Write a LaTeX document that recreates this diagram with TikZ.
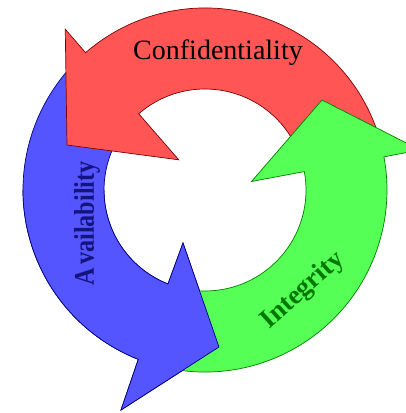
\documentclass[tikz,border=0pt]{standalone}
\usepackage{fontspec}
\setmainfont{Liberation Serif}
\definecolor{redfill}{RGB}{255,85,85}
\definecolor{redline}{RGB}{128,0,0}
\definecolor{bluefill}{RGB}{85,85,255}
\definecolor{blueline}{RGB}{0,0,128}
\definecolor{greenfill}{RGB}{85,255,85}
\definecolor{greenline}{RGB}{0,128,0}
\definecolor{availtext}{RGB}{20,20,128}
\definecolor{integtext}{RGB}{0,120,0}
\newcommand\bluearrowpath{(135:182pt) arc[start angle=135,end angle=248.5,radius=182pt] -- (-84,-220) -- (14,-157) -- (-22,-53) -- (248.5:101pt) arc[start angle=248.5,end angle=135,radius=101pt] -- cycle}
\begin{document}
\begin{tikzpicture}[x=1pt,y=1pt,
  bluearrow/.style={fill=bluefill,draw=blueline,line width=0.7pt,line join=miter},
  redarrow/.style={fill=redfill,draw=redline,line width=0.7pt,line join=miter},
  greenarrow/.style={fill=greenfill,draw=greenline,line width=0.7pt,line join=miter}]
\useasboundingbox (-205,-223) rectangle (201,190);
\clip (-205,-223) rectangle (201,190);
% blue (Availability)
\path[bluearrow] \bluearrowpath;
% red (Confidentiality)
\path[redarrow] (15:182pt) arc[start angle=15,end angle=131,radius=182pt] -- (131:213pt) -- (-138,45) -- (131:40pt) -- (131:101pt) arc[start angle=131,end angle=15,radius=101pt] -- cycle;
% green (Integrity)
\path[greenarrow] (255:182pt) arc[start angle=255,end angle=370.5,radius=182pt] -- (215,40) -- (117,90) -- (46.5,8.5) -- (370.5:101pt) arc[start angle=370.5,end angle=255,radius=101pt] -- cycle;
% blue head over green tail
\begin{scope}
\clip (-205,-223) rectangle (201,0);
\path[bluearrow] \bluearrowpath;
\end{scope}
\node[font=\fontsize{28}{28}\selectfont, anchor=base, inner sep=0pt] (conf) at (13,131) {Confidentiality};
\node[font=\bfseries\fontsize{28.5}{28.5}\selectfont, text=availtext, rotate=90, anchor=base, inner sep=0pt] (avail) at (-111,-33.5) {\scalebox{0.85}[1]{A\kern4pt vailability}};
\node[font=\bfseries\fontsize{27}{27}\selectfont, text=integtext, rotate=42, inner sep=0pt] (integ) at (98,-101) {Integrity};
\end{tikzpicture}
\end{document}
